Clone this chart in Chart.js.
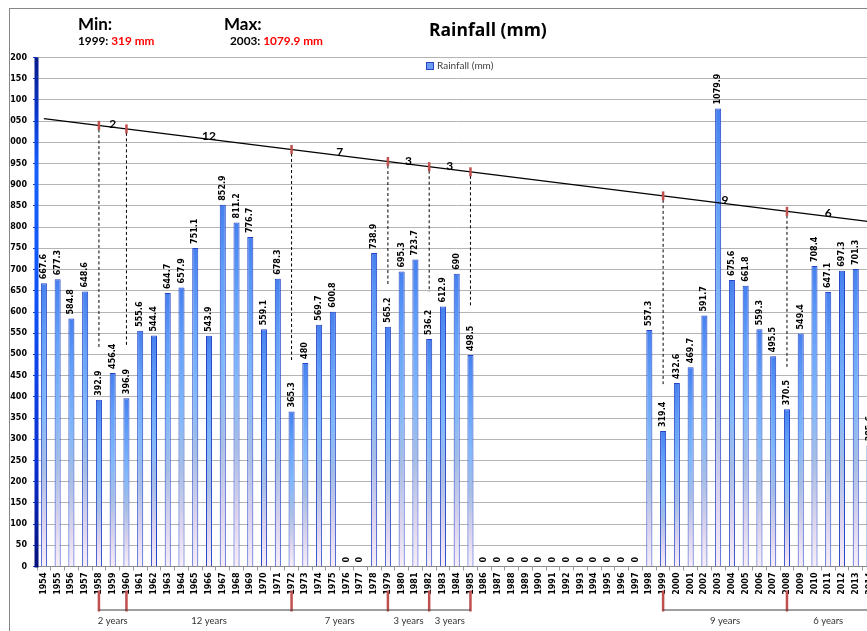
<!DOCTYPE html>
<html>
<head>
<meta charset="utf-8">
<title>Rainfall (mm)</title>
<script src="https://cdn.jsdelivr.net/npm/chart.js@4.4.0/dist/chart.umd.min.js"></script>
<style>
  body { margin: 0; background: #fff; width: 867px; height: 631px; overflow: hidden; position: relative; }
  #frame { position: absolute; left: 9px; top: 8px; width: 900px; height: 640px;
           border-left: 1px solid #868686; border-top: 1px solid #868686; overflow: hidden; }
  #chart { position: absolute; left: -10px; top: -9px; }
  .hd { position: absolute; font-family: Lato, sans-serif; font-weight: bold; color: #000; white-space: nowrap; line-height: 1; }
  .red { color: #ff0000; }
  #legend { position: absolute; left: 426px; top: 60px; font-family: Lato, sans-serif; font-size: 10px; color: #404040; line-height: 1; }
  #legend i { display: inline-block; width: 6px; height: 6px; border: 1px solid #2443c8; background: #6b9cf0; margin-right: 3px; vertical-align: -1px; }
</style>
</head>
<body>
<div id="frame"><canvas id="chart" width="890" height="631"></canvas></div>

<div class="hd" style="left:78px; top:15px; font-size:17px;">Min:</div>
<div class="hd" style="left:78px; top:35px; font-size:11.8px;">1999: <span class="red">319 mm</span></div>
<div class="hd" style="left:224px; top:15px; font-size:17px;">Max:</div>
<div class="hd" style="left:230px; top:35px; font-size:11.8px;">2003: <span class="red">1079.9 mm</span></div>
<div class="hd" style="left:429px; top:21px; font-size:17.5px; font-family:'Open Sans', sans-serif;">Rainfall (mm)</div>
<div id="legend"><i></i>Rainfall (mm)</div>

<script>
// years on the x axis
var years = [];
for (var yr = 1954; yr <= 2014; yr++) years.push(String(yr));

// rainfall per year (mm), 0 = no record
var rainfall = [
  667.6, 677.3, 584.8, 648.6, 392.9, 456.4, 396.9, 555.6, 544.4, 644.7,
  657.9, 751.1, 543.9, 852.9, 811.2, 776.7, 559.1, 678.3, 365.3, 480,
  569.7, 600.8, 0, 0, 738.9, 565.2, 695.3, 723.7, 536.2, 612.9,
  690, 498.5, 0, 0, 0, 0, 0, 0, 0, 0,
  0, 0, 0, 0, 557.3, 319.4, 432.6, 469.7, 591.7, 1079.9,
  675.6, 661.8, 559.3, 495.5, 370.5, 549.4, 708.4, 647.1, 697.3, 701.3,
  285.6
];

// trend line values at first and last year
var trendStart = 1056;
var trendEnd = 813;

// years where the trend is cut, and where the dashed drop lines stop (mm)
var breakYears = ['1958', '1960', '1972', '1979', '1982', '1985', '1999', '2008', '2014'];
var dropTo = [517, 517, 482, 661, 647, 614, 430, 468, null];

// periods labelled along the trend and under the axis
var periods = [
  ['1958', '1960'], ['1960', '1972'], ['1972', '1979'], ['1979', '1982'],
  ['1982', '1985'], ['1999', '2008'], ['2008', '2014']
];

var trend = years.map(function (y, i) {
  if (i === 0) return trendStart;
  if (i === years.length - 1) return trendEnd;
  return null;
});

function trendAt(idx) {
  return trendStart + (trendEnd - trendStart) * idx / (years.length - 1);
}

// gradient for each bar, from its top to the axis
function barFill(context) {
  var chart = context.chart;
  var area = chart.chartArea;
  if (!area || !chart.scales.y) return '#6aa6f6';
  var top = chart.scales.y.getPixelForValue(context.raw || 0);
  var bottom = area.bottom;
  if (bottom - top < 1) return '#6aa6f6';
  var g = chart.ctx.createLinearGradient(0, top, 0, bottom);
  g.addColorStop(0, '#4580ee');
  g.addColorStop(0.2, '#62a0f8');
  g.addColorStop(0.45, '#80b8fa');
  g.addColorStop(0.65, '#a6bee6');
  g.addColorStop(0.85, '#dcd4ee');
  g.addColorStop(1, '#f8eef8');
  return g;
}

var overlay = {
  id: 'overlay',
  afterDatasetsDraw: function (chart) {
    var ctx = chart.ctx;
    var area = chart.chartArea;
    var x = chart.scales.x;
    var y = chart.scales.y;

    // thick blue value axis
    var ag = ctx.createLinearGradient(0, area.top, 0, area.bottom);
    ag.addColorStop(0, '#061a8a');
    ag.addColorStop(0.12, '#0a3ad0');
    ag.addColorStop(0.22, '#1560ff');
    ag.addColorStop(0.5, '#0f50f5');
    ag.addColorStop(0.8, '#0b2fd0');
    ag.addColorStop(1, '#04107a');
    ctx.save();
    ctx.fillStyle = ag;
    ctx.fillRect(area.left - 2.5, area.top, 4, area.bottom - area.top + 1);
    ctx.restore();

    // value labels above the bars
    ctx.save();
    ctx.font = 'bold 8px "DejaVu Sans"';
    ctx.fillStyle = '#000';
    ctx.textAlign = 'left';
    ctx.textBaseline = 'middle';
    rainfall.forEach(function (v, i) {
      var px = x.getPixelForValue(i);
      var py = y.getPixelForValue(v);
      ctx.save();
      ctx.translate(px, py - 4);
      ctx.rotate(-Math.PI / 2);
      ctx.fillText(String(v), 0, 0);
      ctx.restore();
    });
    ctx.restore();

    // red cuts on the trend and dashed drop lines
    ctx.save();
    breakYears.forEach(function (b, k) {
      var idx = years.indexOf(b);
      var px = x.getPixelForValue(idx);
      var py = y.getPixelForValue(trendAt(idx));
      if (dropTo[k] !== null) {
        ctx.beginPath();
        ctx.setLineDash([3, 2.5]);
        ctx.strokeStyle = '#000';
        ctx.lineWidth = 1;
        ctx.moveTo(px, py + 4);
        ctx.lineTo(px, y.getPixelForValue(dropTo[k]));
        ctx.stroke();
      }
      ctx.setLineDash([]);
      ctx.fillStyle = '#c0504d';
      ctx.fillRect(px - 1.25, py - 4.5, 2.5, 9);

      // marks under the year labels
      ctx.fillRect(px - 1.25, area.bottom + 24, 2.5, 21);
    });
    ctx.restore();

    // period counts on the trend and under the axis
    ctx.save();
    periods.forEach(function (p) {
      var i0 = years.indexOf(p[0]);
      var i1 = years.indexOf(p[1]);
      var x0 = x.getPixelForValue(i0);
      var x1 = x.getPixelForValue(i1);
      var mid = (x0 + x1) / 2;
      var n = Number(p[1]) - Number(p[0]);

      ctx.font = 'bold 12px Lato';
      ctx.fillStyle = '#000';
      ctx.textAlign = 'center';
      ctx.textBaseline = 'middle';
      ctx.fillText(String(n), mid, y.getPixelForValue(trendAt((i0 + i1) / 2)) - 3);

      ctx.beginPath();
      ctx.strokeStyle = '#404040';
      ctx.lineWidth = 1;
      ctx.moveTo(x0, area.bottom + 43.5);
      ctx.lineTo(x1, area.bottom + 43.5);
      ctx.stroke();

      ctx.font = '9.5px Lato';
      ctx.fillStyle = '#333';
      ctx.fillText(n + ' years', mid, area.bottom + 54);
    });
    ctx.restore();
  }
};

new Chart(document.getElementById('chart'), {
  type: 'bar',
  data: {
    labels: years,
    datasets: [
      {
        type: 'line',
        label: 'Trend',
        data: trend,
        spanGaps: true,
        borderColor: '#000',
        borderWidth: 1.2,
        pointRadius: 0,
        order: 0
      },
      {
        label: 'Rainfall (mm)',
        data: rainfall,
        backgroundColor: barFill,
        borderColor: '#2443c8',
        borderWidth: 1,
        categoryPercentage: 1,
        barPercentage: 0.44,
        order: 1
      }
    ]
  },
  options: {
    responsive: false,
    animation: false,
    layout: { padding: { top: 57.5, left: 0, right: 13.6, bottom: 0 } },
    plugins: { legend: { display: false }, tooltip: { enabled: false } },
    scales: {
      x: {
        afterFit: function (s) { s.height = 64.5; },
        grid: { display: true, drawOnChartArea: false, offset: true, tickLength: 4, color: '#9a9a9a' },
        border: { color: '#8a8a8a' },
        ticks: {
          autoSkip: false, minRotation: 90, maxRotation: 90, padding: 2,
          color: '#000', font: { family: 'DejaVu Sans', size: 8, weight: 'bold' }
        }
      },
      y: {
        min: 0,
        max: 1200,
        afterFit: function (s) { s.width = 37; },
        grid: { color: '#b4b4b4', tickColor: '#1438e0', tickLength: 4 },
        border: { display: false },
        ticks: {
          stepSize: 50, padding: 6,
          color: '#000', font: { family: 'DejaVu Sans', size: 8, weight: 'bold' }
        }
      }
    }
  },
  plugins: [overlay]
});
</script>
</body>
</html>
